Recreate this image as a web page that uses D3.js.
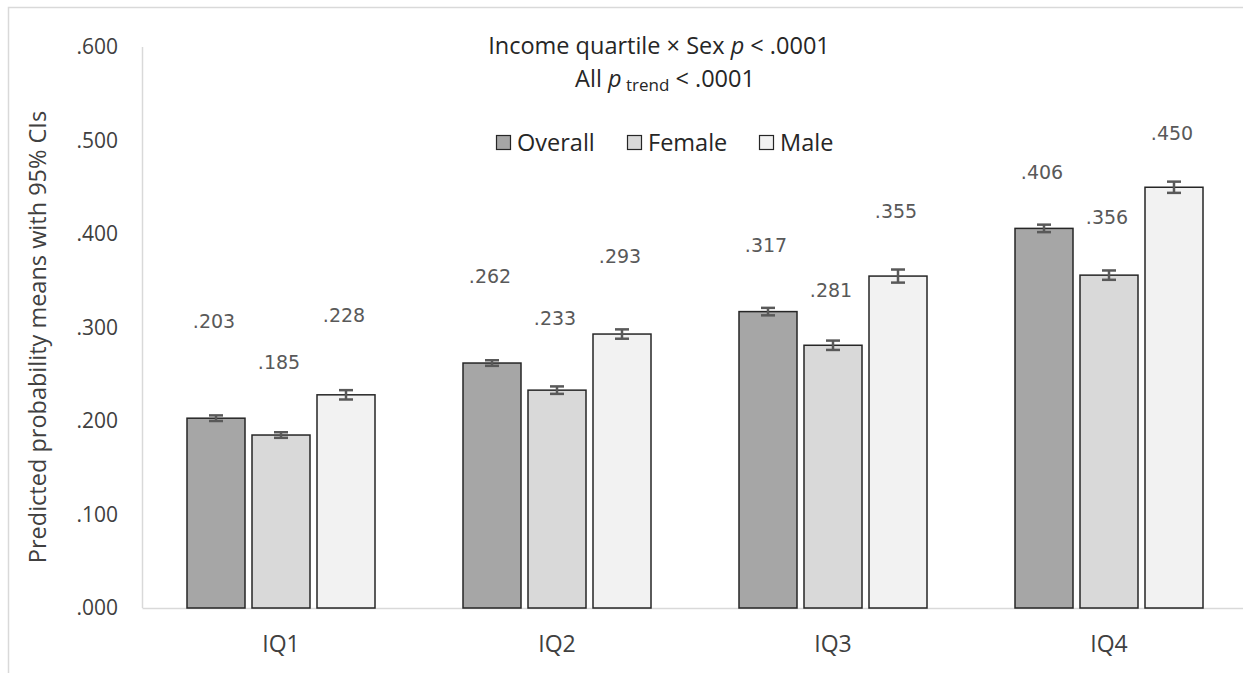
<!DOCTYPE html>
<html>
<head>
<meta charset="utf-8">
<script src="https://cdn.jsdelivr.net/npm/d3@7"></script>
<style>
  html, body { margin: 0; padding: 0; background: #fff; }
  svg { display: block; }
</style>
</head>
<body>
<svg id="chart" width="1243" height="673"></svg>
<script>
// Income quartile categories and sex groups
const quartiles = ["IQ1", "IQ2", "IQ3", "IQ4"];
const groups = ["Overall", "Female", "Male"];

// Predicted probability means per group, one value per quartile
const overallMeans = [0.203, 0.262, 0.317, 0.406];
const femaleMeans  = [0.185, 0.233, 0.281, 0.356];
const maleMeans    = [0.228, 0.293, 0.355, 0.450];

// Half-widths of the 95% confidence intervals
const overallCI = [0.003, 0.003, 0.004, 0.004];
const femaleCI  = [0.003, 0.004, 0.005, 0.005];
const maleCI    = [0.005, 0.005, 0.007, 0.006];

// Y-axis tick values and labels
const yTicks = [0, 0.1, 0.2, 0.3, 0.4, 0.5, 0.6];
const yTickLabels = [".000", ".100", ".200", ".300", ".400", ".500", ".600"];

// Value labels as printed above the bars
const overallLabels = [".203", ".262", ".317", ".406"];
const femaleLabels  = [".185", ".233", ".281", ".356"];
const maleLabels    = [".228", ".293", ".355", ".450"];

const seriesMeans = [overallMeans, femaleMeans, maleMeans];
const seriesCI = [overallCI, femaleCI, maleCI];
const seriesLabels = [overallLabels, femaleLabels, maleLabels];

// Styling / layout
const fills = ["#a6a6a6", "#d9d9d9", "#f2f2f2"];
// Vertical lift of each value label above its bar top (px), per group and quartile
const labelLift = [
  [97, 87, 67, 56],
  [73, 72, 55, 58],
  [80, 78, 65, 54]
];

const svg = d3.select("#chart");
const W = 1243, H = 673;
const tf = "'Open Sans', Lato, sans-serif";

// Outer chart frame
svg.append("rect")
  .attr("x", 8.5).attr("y", 7.5)
  .attr("width", W + 20).attr("height", H + 20)
  .attr("fill", "#fff").attr("stroke", "#d9d9d9").attr("stroke-width", 1.5);

const plot = { left: 143, right: 1247, top: 47, bottom: 608 };

const x0 = d3.scaleBand().domain(quartiles).range([plot.left, plot.right]).paddingInner(0).paddingOuter(0);
const y = d3.scaleLinear().domain([0, 0.6]).range([plot.bottom, plot.top]);

const barW = 58, barStep = 65;
const groupOffset = d3.scaleLinear().domain([0, 2]).range([-barStep, barStep]);

// Axes lines
svg.append("line")
  .attr("x1", plot.left - 0.5).attr("x2", plot.left - 0.5)
  .attr("y1", plot.top).attr("y2", plot.bottom)
  .attr("stroke", "#d9d9d9").attr("stroke-width", 1.5);
svg.append("line")
  .attr("x1", plot.left - 0.5).attr("x2", W)
  .attr("y1", plot.bottom + 0.5).attr("y2", plot.bottom + 0.5)
  .attr("stroke", "#d9d9d9").attr("stroke-width", 1.5);

// Y tick labels via an axis generator with hidden lines
const yAxis = d3.axisLeft(y)
  .tickValues(yTicks)
  .tickFormat((d, i) => yTickLabels[i])
  .tickSize(0).tickPadding(25);
const yg = svg.append("g").attr("transform", `translate(${plot.left},0)`).call(yAxis);
yg.select(".domain").remove();
yg.selectAll("text")
  .attr("font-family", tf)
  .attr("font-size", 21).attr("fill", "#404040");

// X category labels
const xAxis = d3.axisBottom(x0).tickSize(0).tickPadding(28);
const xg = svg.append("g").attr("transform", `translate(0,${plot.bottom})`).call(xAxis);
xg.select(".domain").remove();
xg.selectAll("text")
  .attr("font-family", tf)
  .attr("font-size", 23).attr("fill", "#404040");

// Y axis title
svg.append("text")
  .attr("transform", `translate(46,337) rotate(-90)`)
  .attr("text-anchor", "middle")
  .attr("font-family", tf)
  .attr("font-size", 23.5).attr("fill", "#404040")
  .text("Predicted probability means with 95% CIs");

// Bars, error bars and value labels
const data = [];
groups.forEach((g, gi) => {
  quartiles.forEach((q, qi) => {
    data.push({ g, gi, q, qi, v: seriesMeans[gi][qi], ci: seriesCI[gi][qi], label: seriesLabels[gi][qi] });
  });
});
const cx = d => x0(d.q) + x0.bandwidth() / 2 + groupOffset(d.gi);

svg.append("g").selectAll("rect").data(data).join("rect")
  .attr("x", d => cx(d) - barW / 2)
  .attr("y", d => y(d.v))
  .attr("width", barW)
  .attr("height", d => y(0) - y(d.v))
  .attr("fill", d => fills[d.gi])
  .attr("stroke", "#262626").attr("stroke-width", 1.5);

const eb = svg.append("g").attr("stroke", "#595959").attr("stroke-width", 2.5).attr("fill", "none");
eb.selectAll("line.stem").data(data).join("line").attr("class", "stem")
  .attr("x1", cx).attr("x2", cx)
  .attr("y1", d => y(d.v + d.ci)).attr("y2", d => y(d.v - d.ci));
eb.selectAll("line.capt").data(data).join("line").attr("class", "capt")
  .attr("x1", d => cx(d) - 7).attr("x2", d => cx(d) + 7)
  .attr("y1", d => y(d.v + d.ci)).attr("y2", d => y(d.v + d.ci));
eb.selectAll("line.capb").data(data).join("line").attr("class", "capb")
  .attr("x1", d => cx(d) - 7).attr("x2", d => cx(d) + 7)
  .attr("y1", d => y(d.v - d.ci)).attr("y2", d => y(d.v - d.ci));

svg.append("g").selectAll("text").data(data).join("text")
  .attr("x", d => cx(d) - 2)
  .attr("y", d => y(d.v) - labelLift[d.gi][d.qi] + 7)
  .attr("text-anchor", "middle")
  .attr("font-family", "'DejaVu Sans', Verdana, sans-serif")
  .attr("font-size", 19).attr("fill", "#595959")
  .text(d => d.label);

// Title (two lines, italic p)
const t1 = svg.append("text").attr("x", 659).attr("y", 54)
  .attr("text-anchor", "middle").attr("font-family", tf).attr("font-size", 23.5).attr("fill", "#262626");
t1.append("tspan").text("Income quartile × Sex ");
t1.append("tspan").attr("font-style", "italic").text("p");
t1.append("tspan").text(" < .0001");

const t2 = svg.append("text").attr("x", 665).attr("y", 87)
  .attr("text-anchor", "middle").attr("font-family", tf).attr("font-size", 23.5).attr("fill", "#262626");
t2.append("tspan").text("All ");
t2.append("tspan").attr("font-style", "italic").text("p");
t2.append("tspan").attr("font-size", 17).attr("dy", 4).text(" trend");
t2.append("tspan").attr("dy", -4).text(" < .0001");

// Legend
const legendX = [496, 627, 759];
const lg = svg.append("g");
groups.forEach((g, i) => {
  lg.append("rect").attr("x", legendX[i] + 0.5).attr("y", 135.5)
    .attr("width", 14).attr("height", 14)
    .attr("fill", fills[i]).attr("stroke", "#262626").attr("stroke-width", 1.2);
  lg.append("text").attr("x", legendX[i] + 21).attr("y", 151)
    .attr("font-family", tf).attr("font-size", 23.5).attr("fill", "#262626")
    .text(g);
});
</script>
</body>
</html>
